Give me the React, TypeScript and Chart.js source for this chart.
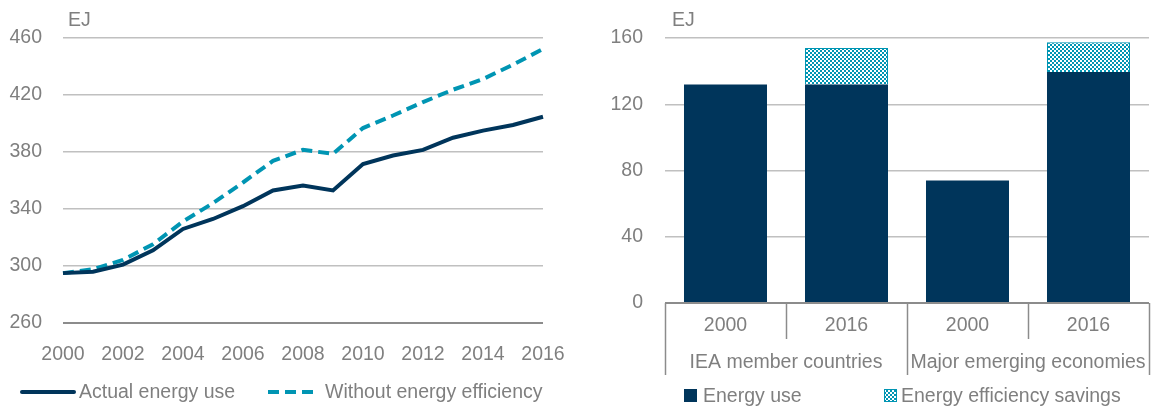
import React, { useEffect, useRef } from 'react';
import { Chart, registerables } from 'chart.js';

Chart.register(...registerables);

// ---------- Data ----------
const years = ['2000', '2001', '2002', '2003', '2004', '2005', '2006', '2007', '2008', '2009', '2010', '2011', '2012', '2013', '2014', '2015', '2016'];
const actualEnergyUse = [295, 296, 301, 311, 326, 333, 342, 353, 356.5, 353, 371.5, 377.5, 381.5, 390, 395, 399, 404.7];
const withoutEnergyEfficiency = [295, 297.7, 304.3, 315.3, 331.2, 344.1, 358.6, 373.8, 381.5, 378.7, 396.8, 405.6, 415, 423.7, 431.2, 441.3, 452.3];

const barCategories = ['2000', '2016', '2000', '2016'];
const barGroups = ['IEA member countries', 'Major emerging economies'];
const energyUse = [132, 132, 74, 139.5];
const efficiencySavings = [null, 22, null, 18];

const lineLegend = ['Actual energy use', 'Without energy efficiency'];
const barLegend = ['Energy use', 'Energy efficiency savings'];
const unitLabel = 'EJ';

// ---------- Styles ----------
const FONT = '"Liberation Sans", Arial, sans-serif';
const FS = 19.5;
const TEXT = '#7f7f7f';
const NAVY = '#00355b';
const TEAL = '#0095b3';
const GRID = '#c0c0c0';
const AXIS = '#8c8c8c';

function makePattern(): CanvasPattern | string {
  const pc = document.createElement('canvas');
  pc.width = 4;
  pc.height = 4;
  const c = pc.getContext('2d');
  if (!c) return TEAL;
  c.fillStyle = '#ffffff';
  c.fillRect(0, 0, 4, 4);
  c.fillStyle = TEAL;
  c.fillRect(0, 0, 2, 2);
  c.fillRect(2, 2, 2, 2);
  return c.createPattern(pc, 'repeat') || TEAL;
}

const groupPlugin = {
  id: 'groupAxis',
  afterDraw(chart: any) {
    const { ctx, scales } = chart;
    const x = scales.x;
    const y = scales.y;
    const y0 = y.getPixelForValue(0);
    const step = x.getPixelForValue(1) - x.getPixelForValue(0);
    const start = x.getPixelForValue(0) - step / 2;
    ctx.save();
    ctx.strokeStyle = AXIS;
    ctx.lineWidth = 1.5;
    for (let i = 0; i <= barCategories.length; i++) {
      const bx = Math.round(start + i * step) + 0.5;
      const long = i % 2 === 0;
      ctx.beginPath();
      ctx.moveTo(bx, y0);
      ctx.lineTo(bx, y0 + (long ? 72 : 36));
      ctx.stroke();
    }
    ctx.fillStyle = TEXT;
    ctx.font = `${FS}px ${FONT}`;
    ctx.textAlign = 'center';
    ctx.textBaseline = 'middle';
    barGroups.forEach((g, gi) => {
      const cx = (x.getPixelForValue(gi * 2) + x.getPixelForValue(gi * 2 + 1)) / 2;
      ctx.fillText(g, cx, y0 + 60);
    });
    ctx.restore();
  },
};

const tickFont = { size: FS, family: FONT };

export default function App() {
  const lineRef = useRef<HTMLCanvasElement>(null);
  const barRef = useRef<HTMLCanvasElement>(null);

  useEffect(() => {
    const lineChart = new Chart(lineRef.current as HTMLCanvasElement, {
      type: 'line',
      data: {
        labels: years,
        datasets: [
          {
            label: lineLegend[0],
            data: actualEnergyUse,
            borderColor: NAVY,
            borderWidth: 4,
            pointRadius: 0,
            tension: 0,
            fill: false,
          },
          {
            label: lineLegend[1],
            data: withoutEnergyEfficiency,
            borderColor: TEAL,
            borderWidth: 4,
            borderDash: [11, 6],
            pointRadius: 0,
            tension: 0,
            fill: false,
          },
        ],
      },
      options: {
        animation: false,
        responsive: false,
        devicePixelRatio: 1,
        layout: { padding: { top: 38, right: 35, bottom: 0, left: 0 } },
        plugins: { legend: { display: false }, tooltip: { enabled: false } },
        scales: {
          x: {
            grid: { display: false },
            border: { display: false },
            ticks: {
              autoSkip: false,
              maxRotation: 0,
              padding: 12,
              color: TEXT,
              font: tickFont,
              callback: (_v: any, i: number) => (i % 2 === 0 ? years[i] : ''),
            },
            afterFit: (s: any) => {
              s.height = 86;
            },
          },
          y: {
            min: 260,
            max: 460,
            ticks: { stepSize: 40, padding: 21, color: TEXT, font: tickFont },
            grid: {
              drawTicks: false,
              color: (c: any) => (c.tick && c.tick.value === 260 ? AXIS : GRID),
              lineWidth: (c: any) => (c.tick && c.tick.value === 260 ? 2 : 1.5),
            },
            border: { display: false },
            afterFit: (s: any) => {
              s.width = 63;
            },
          },
        },
      },
    } as any);

    const barChart = new Chart(barRef.current as HTMLCanvasElement, {
      type: 'bar',
      data: {
        labels: barCategories,
        datasets: [
          {
            label: barLegend[0],
            data: energyUse,
            backgroundColor: NAVY,
            borderWidth: 0,
            stack: 's',
            barPercentage: 0.686,
            categoryPercentage: 1,
          },
          {
            label: barLegend[1],
            data: efficiencySavings,
            backgroundColor: makePattern(),
            borderColor: TEAL,
            borderWidth: 1,
            stack: 's',
            barPercentage: 0.686,
            categoryPercentage: 1,
          },
        ],
      },
      options: {
        animation: false,
        responsive: false,
        devicePixelRatio: 1,
        layout: { padding: { top: 38, right: 6, bottom: 0, left: 0 } },
        plugins: { legend: { display: false }, tooltip: { enabled: false } },
        scales: {
          x: {
            stacked: true,
            grid: { display: false },
            border: { display: false },
            ticks: { padding: 3, color: TEXT, font: tickFont, maxRotation: 0 },
            afterFit: (s: any) => {
              s.height = 106;
            },
          },
          y: {
            stacked: true,
            min: 0,
            max: 160,
            ticks: { stepSize: 40, padding: 22, color: TEXT, font: tickFont },
            grid: {
              drawTicks: false,
              color: (c: any) => (c.tick && c.tick.value === 0 ? AXIS : GRID),
              lineWidth: (c: any) => (c.tick && c.tick.value === 0 ? 2 : 1.5),
            },
            border: { display: false },
            afterFit: (s: any) => {
              s.width = 87;
            },
          },
        },
      },
      plugins: [groupPlugin],
    } as any);

    return () => {
      lineChart.destroy();
      barChart.destroy();
    };
  }, []);

  const textStyle: React.CSSProperties = {
    position: 'absolute',
    fontFamily: FONT,
    fontSize: FS,
    lineHeight: '20px',
    color: TEXT,
    whiteSpace: 'nowrap',
  };

  return (
    <div style={{ position: 'absolute', left: 0, top: 0, width: 1155, height: 409, background: '#fff', overflow: 'hidden' }}>
      <canvas ref={lineRef} width={578} height={409} style={{ position: 'absolute', left: 0, top: 0, width: 578, height: 409 }} />
      <canvas ref={barRef} width={577} height={409} style={{ position: 'absolute', left: 578, top: 0, width: 577, height: 409 }} />

      <div style={{ ...textStyle, left: 68, top: 9 }}>{unitLabel}</div>
      <div style={{ ...textStyle, left: 672, top: 9 }}>{unitLabel}</div>

      <svg width={1155} height={409} style={{ position: 'absolute', left: 0, top: 0, pointerEvents: 'none' }}>
        <defs>
          <pattern id="chk" width="4" height="4" patternUnits="userSpaceOnUse">
            <rect x="0" y="0" width="4" height="4" fill="#fff" />
            <rect x="0" y="0" width="2" height="2" fill={TEAL} />
            <rect x="2" y="2" width="2" height="2" fill={TEAL} />
          </pattern>
        </defs>
        <line x1={22} y1={392} x2={74} y2={392} stroke={NAVY} strokeWidth={4} strokeLinecap="round" />
        <line x1={268} y1={392} x2={318} y2={392} stroke={TEAL} strokeWidth={4} strokeDasharray="11 6" />
        <rect x={684} y={389} width={13} height={13} fill={NAVY} />
        <rect x={884.5} y={389.5} width={12} height={12} fill="url(#chk)" stroke={TEAL} strokeWidth={1} />
      </svg>

      <div style={{ ...textStyle, left: 79, top: 381 }}>{lineLegend[0]}</div>
      <div style={{ ...textStyle, left: 325, top: 381 }}>{lineLegend[1]}</div>
      <div style={{ ...textStyle, left: 703, top: 385 }}>{barLegend[0]}</div>
      <div style={{ ...textStyle, left: 901, top: 385 }}>{barLegend[1]}</div>
    </div>
  );
}
